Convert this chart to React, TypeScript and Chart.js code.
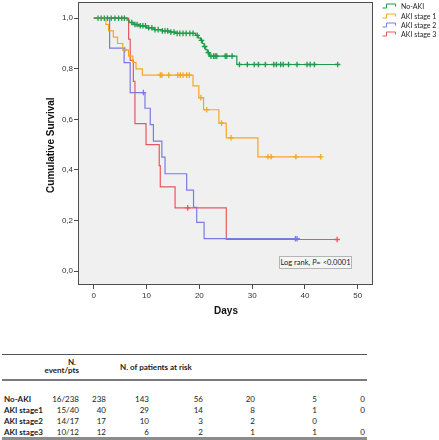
import React, { useEffect, useRef } from "react";
import { Chart, registerables } from "chart.js";

Chart.register(...registerables);

// ---------- data ----------
const seriesNames = ["No-AKI", "AKI stage 1", "AKI stage 2", "AKI stage 3"];
const seriesColors = ["#1f9a4c", "#f6a623", "#7a7ae6", "#e8575c"];

const noAkiTimes = [0, 6.3, 6.7, 7.5, 8.5, 10, 11.5, 13, 14.5, 15.5, 19.3, 19.8, 20.2, 20.6, 20.9, 21.2, 21.5, 21.9, 27.1, 46.2];
const noAkiSurv = [1, 0.992, 0.983, 0.975, 0.97, 0.962, 0.955, 0.95, 0.945, 0.94, 0.932, 0.922, 0.912, 0.9, 0.888, 0.876, 0.864, 0.85, 0.817, 0.817];
const noAkiCensor = [0.8, 1.4, 2.0, 2.6, 3.3, 4.0, 4.7, 5.3, 5.8, 7.2, 7.8, 8.2, 8.8, 9.3, 9.8, 10.4, 11.0, 11.6, 12.2, 13.0, 13.5, 14.0, 14.6, 15.2, 15.8, 16.3, 16.9, 17.5, 18.2, 18.8, 19.6, 20.4, 21.0, 21.7, 22.2, 22.7, 23.0, 23.3, 24.9, 25.2, 26.2, 27.6, 29.1, 30.4, 31.2, 32.5, 34.1, 34.6, 35.4, 35.9, 36.9, 38.5, 40.4, 41.0, 41.8, 46.2];

const aki1Times = [0, 2.3, 2.8, 3.7, 4.5, 5.5, 6.6, 7.4, 8.0, 9.2, 18.8, 19.9, 20.8, 23.7, 25.1, 31.1, 43.0];
const aki1Surv = [1, 0.975, 0.95, 0.925, 0.9, 0.875, 0.85, 0.825, 0.8, 0.775, 0.732, 0.686, 0.638, 0.585, 0.527, 0.452, 0.452];
const aki1Censor = [5.9, 12.6, 12.9, 14.2, 15.9, 16.4, 16.9, 17.6, 18.1, 20.3, 21.4, 24.2, 26.0, 33.0, 33.6, 38.3, 43.0];

const aki2Times = [0, 3.0, 5.75, 6.9, 9.7, 10.7, 11.3, 12.9, 13.5, 17.6, 18.9, 19.5, 20.9, 38.8];
const aki2Surv = [1, 0.882, 0.824, 0.706, 0.644, 0.579, 0.514, 0.451, 0.385, 0.32, 0.252, 0.193, 0.128, 0.128];
const aki2Censor = [9.4, 38.2, 38.5];

const aki3Times = [0, 6.6, 6.9, 7.5, 7.8, 9.9, 12.4, 12.6, 15.4, 25.1, 46.1];
const aki3Surv = [1, 0.917, 0.833, 0.75, 0.583, 0.5, 0.417, 0.333, 0.25, 0.125, 0.125];
const aki3Censor = [17.8, 46.1];

const xTickValues = [0, 10, 20, 30, 40, 50];
const yTickValues = [0, 0.2, 0.4, 0.6, 0.8, 1.0];
const yTickLabels = ["0,0", "0,2", "0,4", "0,6", "0,8", "1,0"];

const riskGroups = ["No-AKI", "AKI stage1", "AKI stage2", "AKI stage3"];
const eventsPts = ["16/238", "15/40", "14/17", "10/12"];
const riskNoAki = ["238", "143", "56", "20", "5", "0"];
const riskAki1 = ["40", "29", "14", "8", "1", "0"];
const riskAki2 = ["17", "10", "3", "2", "0", ""];
const riskAki3 = ["12", "6", "2", "1", "1", "0"];

// ---------- helpers ----------
function stepPoints(times: number[], surv: number[]) {
  return times.map((t, i) => ({ x: t, y: surv[i] }));
}
function survAt(times: number[], surv: number[], t: number) {
  let s = surv[0];
  for (let i = 0; i < times.length; i++) if (times[i] <= t) s = surv[i];
  return s;
}
function censorPoints(times: number[], surv: number[], cens: number[]) {
  return cens.map((t) => ({ x: t, y: survAt(times, surv, t) }));
}

const CW = 439;
const CH = 325;
// plot frame (chart area) in page pixels
const AREA_L = 79;
const AREA_T = 3;
const AREA_R = 373;
const AREA_B = 285;

const sets = [
  { t: noAkiTimes, s: noAkiSurv, c: noAkiCensor },
  { t: aki1Times, s: aki1Surv, c: aki1Censor },
  { t: aki2Times, s: aki2Surv, c: aki2Censor },
  { t: aki3Times, s: aki3Surv, c: aki3Censor },
];

function KMChart() {
  const ref = useRef<HTMLCanvasElement | null>(null);
  useEffect(() => {
    if (!ref.current) return;
    Chart.defaults.font.family = "'Liberation Sans', Arial, sans-serif";
    const datasets: any[] = [];
    sets.forEach((d, i) => {
      datasets.push({
        type: "line",
        label: seriesNames[i],
        data: stepPoints(d.t, d.s),
        borderColor: seriesColors[i],
        borderWidth: 1.2,
        stepped: "before",
        pointRadius: 0,
        fill: false,
      });
    });
    sets.forEach((d, i) => {
      datasets.push({
        type: "scatter",
        label: seriesNames[i] + " censored",
        data: censorPoints(d.t, d.s, d.c),
        borderColor: seriesColors[i],
        backgroundColor: seriesColors[i],
        pointStyle: "cross",
        pointRadius: 2.8,
        borderWidth: 1.3,
        showLine: false,
      });
    });
    const chart = new Chart(ref.current, {
      type: "line",
      data: { datasets },
      options: {
        animation: false,
        responsive: false,
        devicePixelRatio: 1,
        layout: { padding: { left: 0, right: CW - AREA_R, top: AREA_T, bottom: 0 } },
        plugins: { legend: { display: false }, tooltip: { enabled: false } },
        scales: {
          x: {
            type: "linear",
            min: -2.8,
            max: 52.9,
            afterBuildTicks: (s: any) => {
              s.ticks = xTickValues.map((v) => ({ value: v }));
            },
            afterFit: (s: any) => {
              s.height = CH - AREA_B;
              s.paddingLeft = 0;
              s.paddingRight = 0;
            },
            ticks: {
              autoSkip: false,
              maxRotation: 0,
              padding: 2,
              color: "#333",
              font: { size: 8 },
              callback: (v: any) => String(v),
            },
            grid: { drawOnChartArea: false, drawTicks: true, tickLength: 4, color: "#4a4a4a" },
            border: { display: false },
            title: {
              display: true,
              text: "Days",
              color: "#111",
              font: { size: 10, weight: "bold" },
              padding: { top: 0, bottom: 8 },
            },
          },
          y: {
            type: "linear",
            min: -0.055,
            max: 1.051,
            afterBuildTicks: (s: any) => {
              s.ticks = yTickValues.map((v) => ({ value: v }));
            },
            afterFit: (s: any) => {
              s.width = AREA_L;
              s.paddingTop = 0;
              s.paddingBottom = 0;
            },
            ticks: {
              padding: 1,
              color: "#333",
              font: { size: 8 },
              callback: (_v: any, i: number) => yTickLabels[i],
            },
            grid: { drawOnChartArea: false, drawTicks: true, tickLength: 5, color: "#4a4a4a" },
            border: { display: false },
            title: {
              display: true,
              text: "Cumulative Survival",
              color: "#111",
              font: { size: 10, weight: "bold" },
              padding: { top: 45, bottom: 0 },
            },
          },
        },
      } as any,
    });
    return () => chart.destroy();
  }, []);
  return <canvas ref={ref} width={CW} height={CH} style={{ position: "absolute", left: 0, top: 0, width: CW, height: CH }} />;
}

function PlotBackground() {
  return (
    <div
      style={{
        position: "absolute",
        left: AREA_L,
        top: AREA_T,
        width: AREA_R - AREA_L,
        height: AREA_B - AREA_T,
        background: "#f0f0f0",
      }}
    />
  );
}

function PlotFrame() {
  return (
    <div
      style={{
        position: "absolute",
        left: AREA_L - 1,
        top: AREA_T - 1,
        width: AREA_R - AREA_L + 1,
        height: AREA_B - AREA_T + 1,
        boxSizing: "border-box",
        border: "1px solid #4f4f4f",
        pointerEvents: "none",
      }}
    />
  );
}

const legendTop = [6, 15.7, 25, 34];

function StepIcon({ color }: { color: string }) {
  return (
    <svg width="15" height="6" style={{ position: "absolute", left: 382, top: -3 }}>
      <path d="M0.5,5 H4.5 V1 H13.5 V3.5" stroke={color} strokeWidth="1" fill="none" />
    </svg>
  );
}

function Legend() {
  return (
    <>
      {seriesNames.map((n, i) => (
        <div key={n} style={{ position: "absolute", left: 0, top: legendTop[i], width: 0, height: 0 }}>
          <StepIcon color={seriesColors[i]} />
          <div
            style={{
              position: "absolute",
              left: 401,
              top: -6,
              lineHeight: "12px",
              fontFamily: "Lato, 'Noto Sans', sans-serif",
              fontSize: 7,
              color: "#222",
              whiteSpace: "nowrap",
            }}
          >
            {n}
          </div>
        </div>
      ))}
    </>
  );
}

function LogRank() {
  return (
    <div
      style={{
        position: "absolute",
        left: 279,
        top: 256,
        width: 73,
        height: 13,
        boxSizing: "border-box",
        border: "1px solid #b5b5b5",
        background: "#f5f5f5",
        fontFamily: "Lato, 'Noto Sans', sans-serif",
        fontSize: 7.5,
        lineHeight: "11px",
        textAlign: "center",
        color: "#222",
        whiteSpace: "nowrap",
      }}
    >
      Log rank, <i>P</i>= &lt;0.0001
    </div>
  );
}

const tableFont = "Lato, 'Noto Sans', sans-serif";
const colRight = [106, 149, 203, 255, 317, 365];
const rowY = [398.5, 409.5, 420.5, 431.5];
const riskRows = [riskNoAki, riskAki1, riskAki2, riskAki3];

function Txt({ x, y, text, align, bold }: { x: number; y: number; text: string; align: "left" | "right"; bold?: boolean }) {
  const w = 120;
  return (
    <div
      style={{
        position: "absolute",
        left: align === "left" ? x : x - w,
        top: y - 6,
        width: w,
        lineHeight: "12px",
        textAlign: align,
        fontFamily: tableFont,
        fontSize: 8,
        fontWeight: bold ? 700 : 400,
        color: "#222",
        whiteSpace: "nowrap",
      }}
    >
      {text}
    </div>
  );
}

function RiskTable() {
  return (
    <>
      <div style={{ position: "absolute", left: 2, top: 354, width: 365, height: 1, background: "#555" }} />
      <Txt x={76} y={361.5} text="N." align="right" bold />
      <Txt x={79} y={370} text="event/pts" align="right" bold />
      <Txt x={120} y={367} text="N. of patients at risk" align="left" bold />
      <div style={{ position: "absolute", left: 2, top: 379, width: 365, height: 2, background: "#7a7a80" }} />
      {riskGroups.map((g, r) => (
        <React.Fragment key={g}>
          <Txt x={4} y={rowY[r]} text={g} align="left" bold />
          <Txt x={79} y={rowY[r]} text={eventsPts[r]} align="right" />
          {riskRows[r].map((v, c) => (
            <Txt key={c} x={colRight[c]} y={rowY[r]} text={v} align="right" />
          ))}
        </React.Fragment>
      ))}
      <div style={{ position: "absolute", left: 2, top: 437, width: 365, height: 3, background: "#8c8c8c" }} />
    </>
  );
}

export default function App() {
  return (
    <div style={{ position: "absolute", left: 0, top: 0, width: CW, height: 440, background: "#fff", overflow: "hidden" }}>
      <PlotBackground />
      <KMChart />
      <PlotFrame />
      <Legend />
      <LogRank />
      <RiskTable />
    </div>
  );
}
